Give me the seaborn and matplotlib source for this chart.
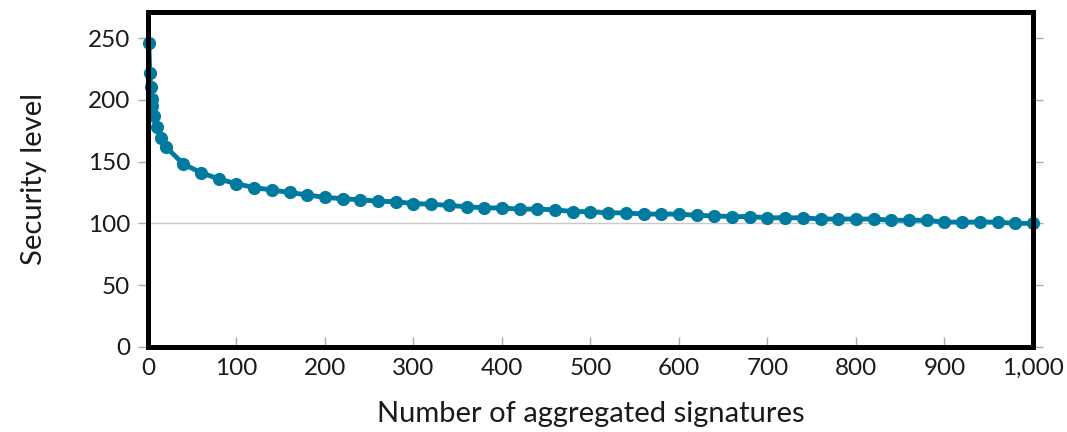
import matplotlib
matplotlib.use("Agg")
import matplotlib.pyplot as plt
import matplotlib.ticker as mticker
import seaborn as sns
import pandas as pd

# Data
signatures = [1, 2, 3, 4, 5, 7, 10, 15, 20,
              40, 60, 80, 100, 120, 140, 160, 180, 200, 220, 240, 260, 280, 300,
              320, 340, 360, 380, 400, 420, 440, 460, 480, 500, 520, 540, 560,
              580, 600, 620, 640, 660, 680, 700, 720, 740, 760, 780, 800, 820,
              840, 860, 880, 900, 920, 940, 960, 980, 1000]
security = [246, 222, 210, 201, 195, 187, 178, 169, 162,
            148, 141, 136, 132, 129, 127, 125, 123, 121, 120, 119, 118, 117.5, 116,
            115.5, 114.5, 113.5, 112.5, 112.5, 111.5, 111.5, 111, 109.5, 109.5, 108.5, 108.5, 107.5,
            107.5, 107.5, 106.5, 106, 105.5, 105.5, 104.5, 104.5, 104.5, 103.5, 103.5, 103.5, 103.5,
            102.5, 102.5, 102.5, 101, 101, 101, 101, 100, 100]
x_ticks = [0, 100, 200, 300, 400, 500, 600, 700, 800, 900, 1000]
y_ticks = [0, 50, 100, 150, 200, 250]

df = pd.DataFrame({"Number of aggregated signatures": signatures,
                   "Security level": security})

sns.set_theme(style="white")
plt.rcParams['font.family'] = ['Lato', 'DejaVu Sans']

fig = plt.figure(figsize=(10.67, 4.32), dpi=100)
ax = fig.add_axes([0.1387, 0.197, 0.9681 - 0.1387, 0.972 - 0.197])

color = "#007A9E"
sns.lineplot(data=df, x="Number of aggregated signatures", y="Security level",
             ax=ax, color=color, linewidth=3.5, marker="o", markersize=9.5,
             markeredgewidth=0, zorder=3, clip_on=False)

ax.axhline(100, color="#c8c8c8", linewidth=1, zorder=1)

ax.set_xlim(0, 1000)
ax.set_ylim(0, 271)
ax.set_xticks(x_ticks)
ax.set_yticks(y_ticks)
ax.xaxis.set_major_formatter(mticker.FuncFormatter(lambda v, p: f"{int(v):,}"))

for s in ax.spines.values():
    s.set_color("black")
    s.set_linewidth(3.6)
    s.set_zorder(4)

ax.tick_params(axis="y", which="major", direction="out", length=7, width=1,
               color="#aaaaaa", labelsize=17.5, pad=6, left=True, right=True,
               labelcolor="#1a1a1a")
ax.tick_params(axis="x", which="major", direction="in", length=7, width=1,
               color="#aaaaaa", labelsize=17.5, pad=8, bottom=True,
               labelcolor="#1a1a1a")

ax.set_xlabel("Number of aggregated signatures", fontsize=21, labelpad=16,
              color="#1a1a1a")
ax.set_ylabel("Security level", fontsize=21, labelpad=29, color="#1a1a1a")

fig.savefig("out.png", dpi=100)
